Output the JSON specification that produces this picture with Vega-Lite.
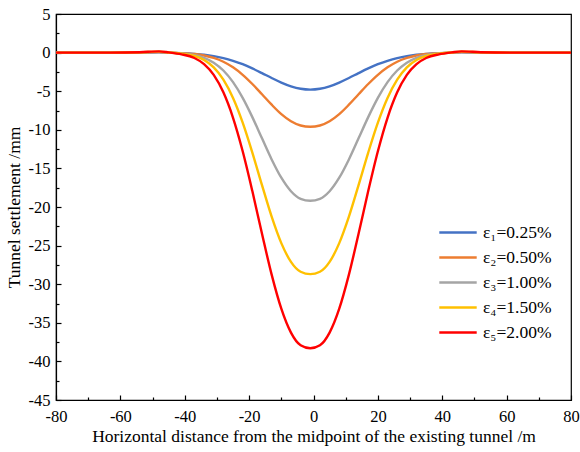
{
  "$schema": "https://vega.github.io/schema/vega-lite/v6.json",
  "width": 515,
  "height": 386,
  "autosize": {"type": "none"},
  "padding": {"left": 56, "top": 14, "right": 9, "bottom": 52},
  "background": "white",
  "config": {
    "view": {"stroke": "black", "strokeWidth": 1.2},
    "font": "Liberation Serif",
    "axis": {"labelFont": "Liberation Serif", "titleFont": "Liberation Serif", "labelColor": "black", "titleColor": "black", "domainColor": "black", "tickColor": "black", "grid": false, "titleFontWeight": "normal"}
  },
  "data": {
    "values": [
      {"x": -80, "e1": 0, "e2": 0, "e3": 0, "e4": 0, "e5": 0},
      {"x": -63, "e1": 0, "e2": 0, "e3": 0, "e4": 0, "e5": 0},
      {"x": -54, "e1": 0.01, "e2": 0.02, "e3": 0.03, "e4": 0.04, "e5": 0.05},
      {"x": -48, "e1": 0.03, "e2": 0.06, "e3": 0.1, "e4": 0.13, "e5": 0.16},
      {"x": -45, "e1": -0.02, "e2": -0.01, "e3": 0.0, "e4": 0.02, "e5": 0.03},
      {"x": -41, "e1": -0.07, "e2": -0.07, "e3": -0.10, "e4": -0.13, "e5": -0.22},
      {"x": -37, "e1": -0.16, "e2": -0.19, "e3": -0.32, "e4": -0.43, "e5": -0.70},
      {"x": -34, "e1": -0.27, "e2": -0.37, "e3": -0.67, "e4": -0.95, "e5": -1.49},
      {"x": -31, "e1": -0.45, "e2": -0.69, "e3": -1.30, "e4": -1.91, "e5": -2.89},
      {"x": -28, "e1": -0.71, "e2": -1.18, "e3": -2.32, "e4": -3.50, "e5": -5.15},
      {"x": -25, "e1": -1.06, "e2": -1.91, "e3": -3.83, "e4": -5.87, "e5": -8.44},
      {"x": -22, "e1": -1.50, "e2": -2.88, "e3": -5.87, "e4": -9.07, "e5": -12.78},
      {"x": -19, "e1": -2.05, "e2": -4.07, "e3": -8.36, "e4": -12.95, "e5": -17.94},
      {"x": -16, "e1": -2.66, "e2": -5.40, "e3": -11.11, "e4": -17.17, "e5": -23.47},
      {"x": -13, "e1": -3.29, "e2": -6.75, "e3": -13.84, "e4": -21.25, "e5": -28.76},
      {"x": -10, "e1": -3.88, "e2": -7.97, "e3": -16.21, "e4": -24.68, "e5": -33.17},
      {"x": -7, "e1": -4.37, "e2": -8.89, "e3": -17.96, "e4": -27.11, "e5": -36.27},
      {"x": -4, "e1": -4.69, "e2": -9.44, "e3": -18.94, "e4": -28.39, "e5": -37.91},
      {"x": -1, "e1": -4.80, "e2": -9.60, "e3": -19.20, "e4": -28.70, "e5": -38.30},
      {"x": 2, "e1": -4.69, "e2": -9.44, "e3": -18.94, "e4": -28.39, "e5": -37.91},
      {"x": 5, "e1": -4.37, "e2": -8.89, "e3": -17.96, "e4": -27.11, "e5": -36.27},
      {"x": 8, "e1": -3.88, "e2": -7.97, "e3": -16.21, "e4": -24.68, "e5": -33.17},
      {"x": 11, "e1": -3.29, "e2": -6.75, "e3": -13.84, "e4": -21.25, "e5": -28.76},
      {"x": 14, "e1": -2.66, "e2": -5.40, "e3": -11.11, "e4": -17.17, "e5": -23.47},
      {"x": 17, "e1": -2.05, "e2": -4.07, "e3": -8.36, "e4": -12.95, "e5": -17.94},
      {"x": 20, "e1": -1.50, "e2": -2.88, "e3": -5.87, "e4": -9.07, "e5": -12.78},
      {"x": 23, "e1": -1.06, "e2": -1.91, "e3": -3.83, "e4": -5.87, "e5": -8.44},
      {"x": 26, "e1": -0.71, "e2": -1.18, "e3": -2.32, "e4": -3.50, "e5": -5.15},
      {"x": 29, "e1": -0.45, "e2": -0.69, "e3": -1.30, "e4": -1.91, "e5": -2.89},
      {"x": 32, "e1": -0.27, "e2": -0.37, "e3": -0.67, "e4": -0.95, "e5": -1.49},
      {"x": 35, "e1": -0.16, "e2": -0.19, "e3": -0.32, "e4": -0.43, "e5": -0.70},
      {"x": 39, "e1": -0.07, "e2": -0.07, "e3": -0.10, "e4": -0.13, "e5": -0.22},
      {"x": 43, "e1": -0.02, "e2": -0.01, "e3": 0.0, "e4": 0.02, "e5": 0.03},
      {"x": 46, "e1": 0.03, "e2": 0.06, "e3": 0.1, "e4": 0.13, "e5": 0.16},
      {"x": 52, "e1": 0.01, "e2": 0.02, "e3": 0.03, "e4": 0.04, "e5": 0.05},
      {"x": 61, "e1": 0, "e2": 0, "e3": 0, "e4": 0, "e5": 0},
      {"x": 80, "e1": 0, "e2": 0, "e3": 0, "e4": 0, "e5": 0}
    ]
  },
  "transform": [
    {"fold": ["e1", "e2", "e3", "e4", "e5"], "as": ["key", "y"]},
    {"lookup": "key", "from": {"data": {"values": [
      {"key": "e1", "label": "ε₁=0.25%"},
      {"key": "e2", "label": "ε₂=0.50%"},
      {"key": "e3", "label": "ε₃=1.00%"},
      {"key": "e4", "label": "ε₄=1.50%"},
      {"key": "e5", "label": "ε₅=2.00%"}
    ]}, "key": "key", "fields": ["label"]}}
  ],
  "layer": [
    {
      "mark": {"type": "line", "interpolate": "monotone", "strokeWidth": 2.4},
      "encoding": {
        "x": {"field": "x", "type": "quantitative", "scale": {"domain": [-80, 80], "nice": false, "zero": false},
          "axis": {"orient": "bottom", "values": [-80, -60, -40, -20, 0, 20, 40, 60, 80], "labelExpr": "replace(datum.label, '−', '-')", "tickSize": -5, "tickWidth": 1.2, "domainWidth": 1.2, "labelFontSize": 16.5, "labelPadding": 13, "title": "Horizontal distance from the midpoint of the existing tunnel /m", "titleFontSize": 17.5, "titlePadding": 3, "labelFlush": false}},
        "y": {"field": "y", "type": "quantitative", "scale": {"domain": [-45, 5], "nice": false, "zero": false},
          "axis": {"orient": "left", "values": [-45, -40, -35, -30, -25, -20, -15, -10, -5, 0, 5], "labelExpr": "replace(datum.label, '−', '-')", "tickSize": -5, "tickWidth": 1.2, "domainWidth": 1.2, "labelFontSize": 16.5, "labelPadding": 11, "title": "Tunnel settlement /mm", "titleFontSize": 17.5, "titlePadding": 5, "labelFlush": false}},
        "color": {"field": "label", "type": "nominal", "sort": ["ε₁=0.25%", "ε₂=0.50%", "ε₃=1.00%", "ε₄=1.50%", "ε₅=2.00%"],
          "scale": {"range": ["#4472C4", "#ED7D31", "#A5A5A5", "#FFC000", "#FF0000"]},
          "legend": {"title": null, "orient": "none", "legendX": 382, "legendY": 206, "symbolType": "stroke", "symbolSize": 1400, "symbolStrokeWidth": 2.5, "labelFont": "Liberation Serif", "labelFontSize": 17.5, "labelColor": "black", "rowPadding": 0, "clipHeight": 25, "labelOffset": 5}},
        "order": {"field": "key"}
      }
    },
    {
      "mark": {"type": "line", "opacity": 0},
      "encoding": {
        "x": {"field": "x", "type": "quantitative",
          "axis": {"orient": "bottom", "values": [-70, -50, -30, -10, 10, 30, 50, 70], "tickSize": -3, "tickWidth": 1.2, "labels": false, "domain": false, "title": null}},
        "y": {"field": "y", "type": "quantitative",
          "axis": {"orient": "left", "values": [-42.5, -37.5, -32.5, -27.5, -22.5, -17.5, -12.5, -7.5, -2.5, 2.5], "tickSize": -3, "tickWidth": 1.2, "labels": false, "domain": false, "title": null}},
        "detail": {"field": "key"}
      }
    }
  ],
  "resolve": {"axis": {"x": "independent", "y": "independent"}}
}
